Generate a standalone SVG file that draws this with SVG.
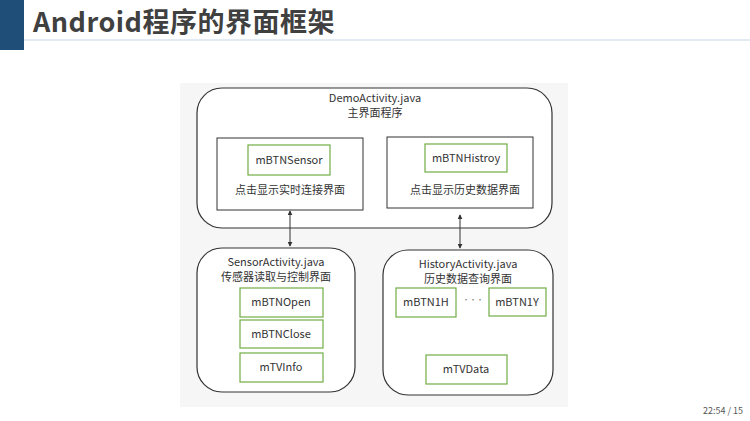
<svg xmlns="http://www.w3.org/2000/svg" width="750" height="421" viewBox="0 0 750 421">
<style>
text{font-family:"Noto Sans CJK SC","Noto Sans",sans-serif;fill:#333;font-size:11px;text-anchor:middle}
.r{fill:#fff;stroke:#333;stroke-width:1.2}
.b{fill:#fff;stroke:#333;stroke-width:1}
.g{fill:#fff;stroke:#70ad47;stroke-width:1.2}
.c{stroke:#333;stroke-width:1;fill:none;marker-start:url(#a);marker-end:url(#a)}
</style>
<defs><marker id="a" viewBox="0 0 6 6" refX="5" refY="3" markerWidth="5" markerHeight="5" orient="auto-start-reverse"><path d="M0,0L6,3L0,6z" fill="#333"/></marker></defs>
<rect width="750" height="421" fill="#fff"/>
<rect x="0" y="0" width="24" height="50" fill="#1f4e79"/>
<line x1="24" y1="40" x2="750" y2="40" stroke="#c5d5ea" stroke-width="1"/>
<text x="33" y="32" style="font-size:27px;font-weight:bold;text-anchor:start;fill:#404040;letter-spacing:0.5px">Android程序的界面框架</text>
<text x="743" y="414" style="font-size:9px;text-anchor:end;fill:#555">22:54 / 15</text>
<rect x="180" y="83" width="388" height="324" fill="#f6f6f6"/>
<g id="demo"><rect class="r" x="197" y="88" width="355" height="140" rx="25"/>
<text x="375" y="102">DemoActivity.java</text><text x="375" y="117">主界面程序</text></g>
<g id="leftpanel"><rect class="b" x="217" y="138" width="146" height="72"/>
<text x="290" y="194">点击显示实时连接界面</text></g>
<g id="mBTNSensor"><rect class="g" x="248" y="145" width="82" height="30"/><text x="289" y="164">mBTNSensor</text></g>
<g id="rightpanel"><rect class="b" x="387" y="137" width="146" height="71"/>
<text x="465" y="194">点击显示历史数据界面</text></g>
<g id="mBTNHistroy"><rect class="g" x="425" y="144" width="82" height="28"/><text x="466" y="162">mBTNHistroy</text></g>
<g id="sensor"><rect class="r" x="197" y="248" width="158" height="144" rx="25"/>
<text x="276" y="266">SensorActivity.java</text><text x="276" y="281">传感器读取与控制界面</text></g>
<g id="mBTNOpen"><rect class="g" x="240" y="288" width="83" height="29"/><text x="281" y="306">mBTNOpen</text></g>
<g id="mBTNClose"><rect class="g" x="240" y="320" width="83" height="28"/><text x="281" y="338">mBTNClose</text></g>
<g id="mTVInfo"><rect class="g" x="240" y="353" width="83" height="29"/><text x="281" y="371">mTVInfo</text></g>
<g id="history"><rect class="r" x="383" y="250" width="170" height="145" rx="25"/>
<text x="468" y="268">HistoryActivity.java</text><text x="468" y="283">历史数据查询界面</text>
<text x="473" y="302" style="font-size:7px;fill:#777">···</text></g>
<g id="mBTN1H"><rect class="g" x="396" y="288" width="60" height="29"/><text x="426" y="306">mBTN1H</text></g>
<g id="mBTN1Y"><rect class="g" x="489" y="288" width="57" height="28"/><text x="517" y="306">mBTN1Y</text></g>
<g id="mTVData"><rect class="g" x="426" y="355" width="81" height="29"/><text x="466" y="373">mTVData</text></g>
<g id="connectors"><line class="c" x1="290" y1="211" x2="290" y2="246"/><line class="c" x1="460" y1="215" x2="460" y2="248"/></g>
</svg>
